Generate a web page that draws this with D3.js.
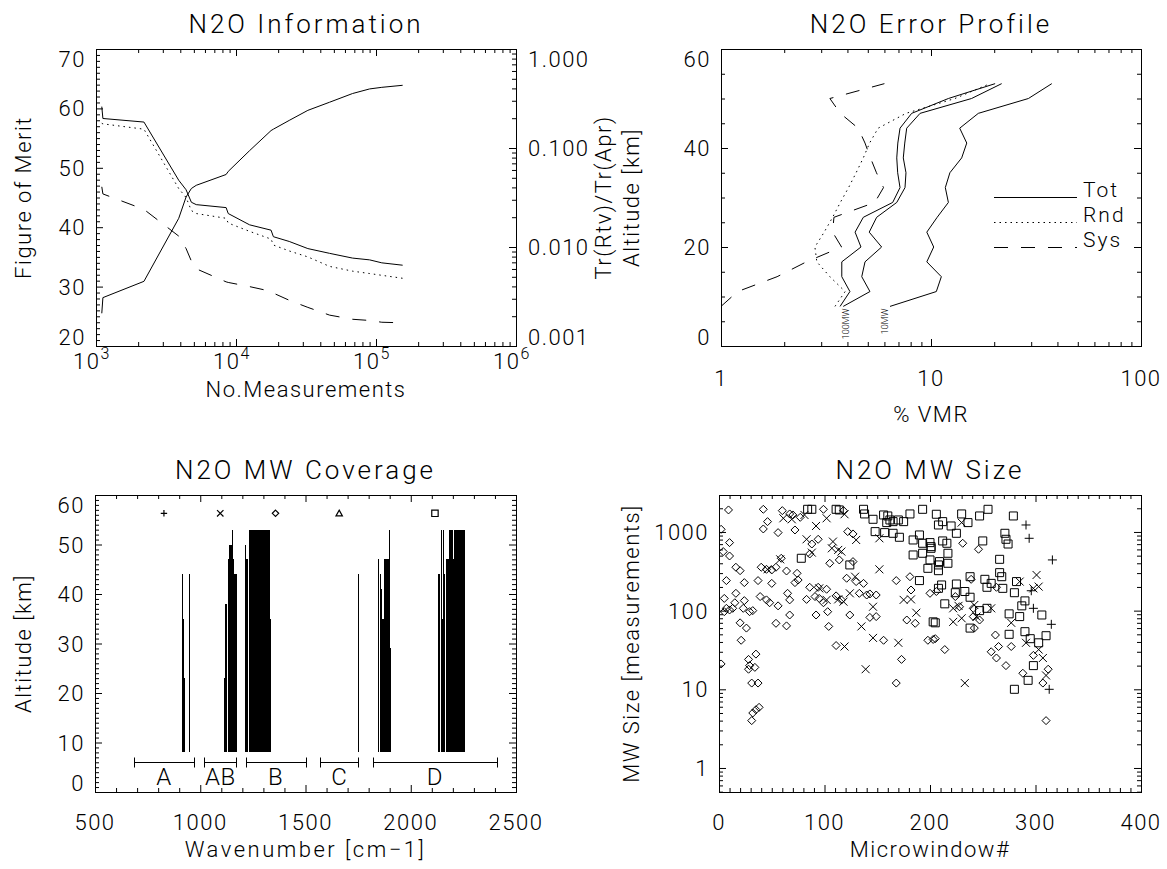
<!DOCTYPE html>
<html>
<head>
<meta charset="utf-8">
<script src="https://cdn.jsdelivr.net/npm/d3@7"></script>
<style>
  body { margin: 0; background: #fff; }
  svg text { font-family: Roboto, "Liberation Sans", sans-serif; font-weight: 300; fill: #000; }
</style>
</head>
<body>
<svg id="chart" width="1167" height="869"></svg>
<script>
// ---------- N2O Information (figure of merit vs number of measurements) ----------
var nMeas   = [1100, 1120, 2200, 3900, 4400, 4800, 5200, 8500, 8800, 12500, 17800, 18500, 24000, 32600, 46600, 68000, 90000, 110000, 155000];
var fomTot  = [60.3, 58.3, 57.7, 47.9, 46.3, 44.2, 43.8, 43.3, 42.3, 40.4, 39.5, 38.4, 37.6, 36.4, 35.6, 34.8, 34.5, 34.0, 33.6];
var fomRnd  = [57.5, 57.4, 56.5, 46.5, 45.0, 42.8, 42.3, 41.5, 40.7, 39.3, 38.0, 37.0, 36.0, 35.0, 33.4, 32.6, 32.2, 31.9, 31.4];
var fomSys  = [46.8, 45.6, 43.0, 38.5, 36.4, 34.3, 33.0, 30.8, 30.7, 30.0, 29.2, 28.9, 27.7, 26.5, 25.2, 24.5, 24.3, 24.0, 23.9];
var trRatio = [0.00214, 0.00308, 0.0045, 0.0195, 0.032, 0.039, 0.042, 0.054, 0.058, 0.094, 0.150, 0.155, 0.19, 0.24, 0.29, 0.355, 0.395, 0.41, 0.43];

// ---------- N2O Error Profile (% VMR vs altitude) ----------
var errAlt    = [8, 11, 14, 17, 20, 23, 26, 29, 32, 35, 38, 41, 44, 47, 50, 53];
var errTot    = [3.69, 4.11, 3.76, 3.76, 4.64, 4.35, 4.76, 6.57, 7.12, 6.94, 6.87, 6.95, 7.12, 8.09, 12.1, 20.2];
var errTot100 = [3.82, 5.12, 4.68, 4.85, 5.82, 5.08, 5.51, 6.87, 7.52, 7.6, 7.38, 7.5, 7.66, 8.87, 15.6, 21.7];
var errTot10  = [6.38, 10.6, 11.2, 9.55, 10.3, 9.55, 10.7, 12.1, 11.7, 12.3, 14.0, 14.8, 13.7, 16.8, 29.1, 37.6];
var errRnd    = [3.49, 3.9, 3.3, 2.86, 2.8, 3.1, 3.4, 3.7, 4.05, 4.4, 4.76, 5.1, 5.6, 7.6, 13.0, 19.1];
var errSys    = [1.0, 1.2, 1.85, 2.55, 3.75, 3.4, 3.45, 5.4, 5.94, 5.5, 5.15, 4.85, 4.5, 3.7, 3.3, 6.0];
var legendNames = ["Tot", "Rnd", "Sys"];

// ---------- N2O MW Coverage ----------
var bandName = ["A", "AB", "B", "C", "D"];
var bandLo   = [685, 1020, 1215, 1570, 1820];
var bandHi   = [970, 1170, 1500, 1750, 2410];
var bandSym  = ["plus", "cross", "diamond", "triangle", "square"];
var mwLo  = [916, 920, 926, 948, 1116, 1121, 1132, 1140, 1153, 1159, 1164, 1216, 1222, 1232, 1330, 1751,
             1848, 1855, 1860, 1866, 1874, 1898, 1901, 2134, 2145, 2150, 2156, 2162, 2168, 2182, 2200, 2210];
var mwHi  = [920, 926, 929, 951, 1121, 1132, 1140, 1153, 1159, 1164, 1176, 1222, 1232, 1330, 1338, 1755,
             1855, 1860, 1866, 1874, 1898, 1901, 1911, 2145, 2150, 2156, 2162, 2168, 2182, 2200, 2210, 2261];
var mwTop = [44, 35, 23, 44, 23, 38, 47, 50, 53, 47, 44, 50, 47, 53, 35, 44,
             47, 44, 41, 35, 47, 53, 29, 44, 53, 35, 53, 44, 47, 53, 47, 53];
var mwBottom = 8;

// ---------- N2O MW Size (microwindow # vs size) ----------
var mwNumB  = [9, 42, 60, 67, 70, 77, 46, 42, 56, 72, 99, 118, 122, 127, 2, 10, 4, 10, 16, 20, 7, 24, 37, 40, 45, 50, 50, 64, 74, 75,
               72, 86, 94, 83, 91, 95, 99, 102, 111, 116, 121, 127, 130, 137, 133, 140, 143, 149, 149, 143, 124, 103, 92, 65, 67, 56, 39, 45, 48, 54,
               64, 67, 24, 16, 15, 5, 7, 10, 13, 5, 23, 29, 32, 20, 26, 21, 2, 28, 35, 29, 34, 28, 31, 37, 32, 35, 38, 31, 104, 111,
               156, 168, 173, 181, 168, 182, 186, 178, 198, 203, 206, 94, 59, 86, 88, 105, 114, 54, 231, 246, 239, 241, 242, 205, 214, 262, 265, 258, 263, 272,
               277, 288, 298, 307, 312, 310, 200, 241, 263, 224, 228, 247];
var mwSizeB = [1905, 1941, 1867, 1694, 1645, 1535, 1353, 1092, 981, 1060, 1941, 1867, 1010, 944, 1081, 732, 563, 495, 356, 322, 241, 227, 241, 356, 335, 329, 222, 319, 298, 245,
               227, 198, 198, 139, 151, 143, 126, 187, 154, 137, 258, 420, 234, 222, 166, 158, 163, 158, 84, 82, 88, 97, 88, 166, 137, 115, 151, 137, 126, 69,
               64, 88, 134, 166, 126, 143, 107, 102, 107, 97, 107, 97, 100, 70, 60, 42, 21, 24, 28, 20, 19, 18, 12, 12, 5.0, 5.5, 5.9, 4.0, 63, 36,
               42, 12, 24, 270, 241, 183, 69, 76, 42, 43, 175, 807, 463, 525, 703, 400, 441, 356, 718, 603, 250, 107, 60, 44, 32, 49, 35, 30, 25, 20,
               35, 16, 27, 12, 18, 4.0, 166, 84, 198, 151, 112, 76];
var mwNumAB  = [61, 69, 81, 92, 102, 119, 83, 88, 108, 107, 113, 116, 130, 129, 152, 152, 95, 102, 113, 118, 124, 135, 146, 146, 170,
                119, 139, 175, 182, 187, 58, 46, 230, 285, 301, 303, 298, 222, 227, 242, 244, 258, 222, 230, 277, 291, 303, 307, 310, 233];
var mwSizeAB = [1492, 1449, 1645, 1192, 1492, 1679, 807, 546, 754, 620, 591, 563, 791, 270, 831, 335, 192, 137, 139, 130, 166, 63, 45, 112, 39,
                35, 18, 137, 139, 94, 449, 335, 1315, 234, 284, 202, 192, 107, 115, 118, 84, 107, 72, 80, 70, 39, 32, 25, 15, 12];
var mwNumD  = [84, 88, 111, 114, 137, 138, 146, 160, 162, 165, 170, 175, 181, 193, 148, 157, 165, 171, 184, 190, 193, 200, 201, 184, 193,
               200, 198, 208, 208, 124, 78, 190, 205, 208, 159, 156, 206, 212, 220, 230, 236, 247, 255, 279, 212, 216, 225, 201, 217, 209,
               217, 208, 250, 266, 271, 272, 274, 266, 268, 238, 252, 254, 258, 269, 280, 282, 290, 287, 275, 285, 306, 211, 224, 225, 233,
               238, 203, 214, 247, 238, 254, 275, 290, 295, 310, 303, 298, 293, 280];
var mwSizeD = [1941, 1941, 1941, 1905, 1941, 1694, 1449, 1597, 1421, 1353, 1421, 1353, 1694, 1941, 1010, 981, 962, 856, 791, 916, 718, 732, 620, 510, 536,
               441, 345, 381, 1227, 381, 463, 241, 70, 192, 1315, 1645, 1679, 1353, 1192, 1694, 1315, 1597, 1941, 1597, 769, 718, 962, 651, 536, 420,
               400, 322, 769, 449, 962, 807, 703, 304, 270, 270, 250, 198, 222, 192, 169, 234, 133, 115, 91, 84, 88, 212, 169, 218, 175,
               148, 72, 122, 100, 60, 107, 50, 54, 44, 48, 39, 20, 13, 10];
var mwNumA  = [291, 294, 316, 296, 298, 315, 313];
var mwSizeA = [1227, 831, 441, 179, 107, 67, 10];

// ------------------------------------------------------------------
var svg = d3.select("#chart");
var TICK_FS = 22, TITLE_FS = 26, LS = "1.5px";

function decadeMinors(lo, hi) {
  var out = [];
  for (var e = Math.floor(Math.log10(lo)); e <= Math.ceil(Math.log10(hi)); e++) {
    for (var k = 1; k < 10; k++) {
      var v = k * Math.pow(10, e);
      if (v >= lo * 0.9999 && v <= hi * 1.0001) out.push(v);
    }
  }
  return out;
}

function frame(box) {
  var g = svg.append("g");
  g.append("rect")
    .attr("x", box.x0 + 0.5).attr("y", box.y0 + 0.5)
    .attr("width", box.x1 - box.x0).attr("height", box.y1 - box.y0)
    .attr("fill", "none").attr("stroke", "#000").attr("stroke-width", 1);
  return g;
}

function clip(g, box, id) {
  svg.append("clipPath").attr("id", id).append("rect")
    .attr("x", box.x0).attr("y", box.y0).attr("width", box.x1 - box.x0 + 1).attr("height", box.y1 - box.y0 + 1);
  return g.append("g").attr("clip-path", "url(#" + id + ")");
}

// inward ticks on both horizontal edges
function xTicks(g, scale, vals, len, box) {
  var b = g.append("g").attr("transform", "translate(0," + box.y1 + ")")
    .call(d3.axisBottom(scale).tickValues(vals).tickSize(-len).tickFormat(""));
  b.select(".domain").remove();
  var t = g.append("g").attr("transform", "translate(0," + box.y0 + ")")
    .call(d3.axisTop(scale).tickValues(vals).tickSize(-len).tickFormat(""));
  t.select(".domain").remove();
}
function yTicksL(g, scale, vals, len, box) {
  var a = g.append("g").attr("transform", "translate(" + box.x0 + ",0)")
    .call(d3.axisLeft(scale).tickValues(vals).tickSize(-len).tickFormat(""));
  a.select(".domain").remove();
}
function yTicksR(g, scale, vals, len, box) {
  var a = g.append("g").attr("transform", "translate(" + box.x1 + ",0)")
    .call(d3.axisRight(scale).tickValues(vals).tickSize(-len).tickFormat(""));
  a.select(".domain").remove();
}

function txt(g, x, y, s, opts) {
  opts = opts || {};
  var t = g.append("text").attr("x", x).attr("y", y)
    .attr("font-size", opts.fs || TICK_FS)
    .attr("letter-spacing", opts.ls || LS)
    .attr("text-anchor", opts.anchor || "middle")
    .text(s);
  if (opts.rot) t.attr("transform", "rotate(" + opts.rot + "," + x + "," + y + ")");
  return t;
}

// y labels: centred on ticks, the two end labels pulled inside the frame
function yLabels(g, scale, vals, x, anchor, fmt) {
  var dom = scale.domain(), lo = Math.min(dom[0], dom[1]), hi = Math.max(dom[0], dom[1]);
  g.selectAll(null).data(vals).enter().append("text")
    .attr("x", x).attr("y", function (d) {
      if (Math.abs(d - hi) < 1e-9) return scale(d) + 18;
      if (Math.abs(d - lo) < 1e-9) return scale(d) - 1;
      return scale(d) + 8;
    })
    .attr("font-size", TICK_FS).attr("letter-spacing", LS)
    .attr("text-anchor", anchor)
    .text(fmt);
}
function xLabels(g, scale, vals, y, fmt) {
  g.selectAll(null).data(vals).enter().append("text")
    .attr("x", function (d) { return scale(d); }).attr("y", y)
    .attr("font-size", TICK_FS).attr("letter-spacing", LS)
    .attr("text-anchor", "middle")
    .text(fmt);
}

function symbolPath(kind, r) {
  if (kind === "diamond") return "M0," + (-r) + "L" + r + ",0L0," + r + "L" + (-r) + ",0Z";
  if (kind === "square") return "M" + (-r) + "," + (-r) + "H" + r + "V" + r + "H" + (-r) + "Z";
  if (kind === "cross") return "M" + (-r) + "," + (-r) + "L" + r + "," + r + "M" + (-r) + "," + r + "L" + r + "," + (-r);
  if (kind === "plus") return "M" + (-r) + ",0H" + r + "M0," + (-r) + "V" + r;
  if (kind === "triangle") return "M0," + (-r) + "L" + r + "," + (r * 0.8) + "L" + (-r) + "," + (r * 0.8) + "Z";
  return "";
}

// ======================= Panel 1 =======================
(function () {
  var box = { x0: 96, x1: 516, y0: 49, y1: 346 };
  var x = d3.scaleLog().domain([1e3, 1e6]).range([box.x0, box.x1]);
  var yL = d3.scaleLinear().domain([20, 70]).range([box.y1, box.y0]);
  var yR = d3.scaleLog().domain([0.001, 1]).range([box.y1, box.y0]);
  var g = frame(box);

  xTicks(g, x, [1e3, 1e4, 1e5, 1e6], 7, box);
  xTicks(g, x, decadeMinors(1e3, 1e6).filter(function (v) { return [1e3, 1e4, 1e5, 1e6].indexOf(v) < 0; }), 4, box);
  yTicksL(g, yL, d3.range(20, 71, 10), 7, box);
  yTicksL(g, yL, d3.range(20, 71, 1).filter(function (v) { return v % 10; }), 4, box);
  yTicksR(g, yR, [0.001, 0.01, 0.1, 1], 7, box);
  yTicksR(g, yR, decadeMinors(0.001, 1).filter(function (v) { return [0.001, 0.01, 0.1, 1].indexOf(v) < 0; }), 4, box);

  yLabels(g, yL, d3.range(20, 71, 10), box.x0 - 10, "end", function (d) { return d; });
  yLabels(g, yR, [0.001, 0.01, 0.1, 1], box.x1 + 12, "start", function (d) { return d.toFixed(3); });

  [3, 4, 5, 6].forEach(function (e) {
    var t = g.append("text").attr("x", x(Math.pow(10, e)) - 4).attr("y", box.y1 + 23)
      .attr("font-size", TICK_FS).attr("letter-spacing", LS).attr("text-anchor", "middle");
    t.append("tspan").text("10");
    t.append("tspan").attr("dy", -10).attr("font-size", 16).text(e);
  });

  txt(g, (box.x0 + box.x1) / 2, 33, "N2O Information", { fs: TITLE_FS, ls: "3px" });
  txt(g, (box.x0 + box.x1) / 2, 397, "No.Measurements", {});
  txt(g, 31, (box.y0 + box.y1) / 2, "Figure of Merit", { rot: -90 });
  txt(g, 611, (box.y0 + box.y1) / 2, "Tr(Rtv)/Tr(Apr)", { rot: -90 });

  var cg = clip(g, box, "c1");
  function line(vals, sc, dash) {
    var ln = d3.line().x(function (d, i) { return x(nMeas[i]); }).y(function (d) { return sc(d); });
    cg.append("path").datum(vals).attr("d", ln).attr("fill", "none")
      .attr("stroke", "#000").attr("stroke-width", 1).attr("stroke-dasharray", dash || null);
  }
  line(fomTot, yL);
  line(fomRnd, yL, "1.5,4");
  line(fomSys, yL, "14,13");
  line(trRatio, yR);
})();

// ======================= Panel 2 =======================
(function () {
  var box = { x0: 721, x1: 1141, y0: 49, y1: 346 };
  var x = d3.scaleLog().domain([1, 100]).range([box.x0, box.x1]);
  var y = d3.scaleLinear().domain([0, 60]).range([box.y1, box.y0]);
  var g = frame(box);

  xTicks(g, x, [1, 10, 100], 7, box);
  xTicks(g, x, decadeMinors(1, 100).filter(function (v) { return [1, 10, 100].indexOf(v) < 0; }), 4, box);
  yTicksL(g, y, [0, 20, 40, 60], 7, box);
  yTicksL(g, y, [5, 10, 15, 25, 30, 35, 45, 50, 55], 4, box);
  yTicksR(g, y, [0, 20, 40, 60], 7, box);
  yTicksR(g, y, [5, 10, 15, 25, 30, 35, 45, 50, 55], 4, box);

  yLabels(g, y, [0, 20, 40, 60], box.x0 - 10, "end", function (d) { return d; });
  xLabels(g, x, [1, 10, 100], box.y1 + 40, function (d) { return d; });

  txt(g, (box.x0 + box.x1) / 2, 33, "N2O Error Profile", { fs: TITLE_FS, ls: "3px" });
  txt(g, (box.x0 + box.x1) / 2, 422, "% VMR", {});
  txt(g, 639, (box.y0 + box.y1) / 2, "Altitude [km]", { rot: -90 });

  var cg = clip(g, box, "c2");
  var ln = d3.line().x(function (d) { return x(d); }).y(function (d, i) { return y(errAlt[i]); });
  [[errTot, null], [errTot100, null], [errTot10, null], [errRnd, "1.5,4"], [errSys, "14,13"]].forEach(function (s) {
    cg.append("path").datum(s[0]).attr("d", ln).attr("fill", "none")
      .attr("stroke", "#000").attr("stroke-width", 1).attr("stroke-dasharray", s[1]);
  });

  // MW count labels at the bottom of the curves
  [["100MW", errTot100, 6], ["10MW", errTot10, -2]].forEach(function (l) {
    var lx = x(l[1][0]) + l[2], ly = y(errAlt[0]) + 2;
    g.append("text").attr("x", lx).attr("y", ly).attr("font-size", 9)
      .attr("text-anchor", "end").attr("transform", "rotate(-90," + lx + "," + ly + ")").text(l[0]);
  });

  // legend
  var dashes = [null, "1.5,4", "14,13"];
  legendNames.forEach(function (nm, i) {
    var ly = 197 + i * 25;
    g.append("line").attr("x1", 994).attr("x2", 1077).attr("y1", ly + 0.5).attr("y2", ly + 0.5)
      .attr("stroke", "#000").attr("stroke-dasharray", dashes[i]);
    g.append("text").attr("x", 1083).attr("y", ly).attr("font-size", 21).attr("letter-spacing", "2px").text(nm);
  });
})();

// ======================= Panel 3 =======================
(function () {
  var box = { x0: 95, x1: 516, y0: 495, y1: 792 };
  var x = d3.scaleLinear().domain([500, 2500]).range([box.x0, box.x1]);
  var y = d3.scaleLinear().domain([0, 60]).range([box.y1, box.y0]);
  var g = frame(box);

  xTicks(g, x, d3.range(500, 2501, 500), 7, box);
  xTicks(g, x, d3.range(500, 2501, 100).filter(function (v) { return v % 500; }), 4, box);
  yTicksL(g, y, d3.range(0, 61, 10), 7, box);
  yTicksL(g, y, d3.range(0, 61, 1).filter(function (v) { return v % 10; }), 4, box);
  yTicksR(g, y, d3.range(0, 61, 10), 7, box);
  yTicksR(g, y, d3.range(0, 61, 1).filter(function (v) { return v % 10; }), 4, box);

  yLabels(g, y, d3.range(0, 61, 10), box.x0 - 10, "end", function (d) { return d; });
  xLabels(g, x, d3.range(500, 2501, 500), box.y1 + 38, function (d) { return d; });

  txt(g, (box.x0 + box.x1) / 2, 479, "N2O MW Coverage", { fs: TITLE_FS, ls: "3px" });
  txt(g, (box.x0 + box.x1) / 2, 857, "Wavenumber [cm\u22121]", { ls: "2.5px" });
  txt(g, 31, (box.y0 + box.y1) / 2, "Altitude [km]", { rot: -90 });

  // microwindow coverage blocks
  g.selectAll(null).data(mwLo).enter().append("rect")
    .attr("x", function (d) { return Math.floor(x(d)); })
    .attr("width", function (d, i) { return Math.max(1, x(mwHi[i]) - x(d)); })
    .attr("y", function (d, i) { return y(mwTop[i]); })
    .attr("height", function (d, i) { return y(mwBottom) - y(mwTop[i]); })
    .attr("fill", "#000").attr("shape-rendering", "crispEdges");

  // spectral band ranges
  var yb = Math.round(y(6)) + 0.5;
  bandName.forEach(function (nm, i) {
    var a = Math.round(x(bandLo[i])) + 0.5, b = Math.round(x(bandHi[i])) + 0.5;
    g.append("path").attr("d", "M" + a + "," + yb + "H" + b + "M" + a + "," + (yb - 5) + "V" + (yb + 5) + "M" + b + "," + (yb - 5) + "V" + (yb + 5))
      .attr("stroke", "#000").attr("fill", "none");
    var cx = x((bandLo[i] + bandHi[i]) / 2);
    txt(g, cx, y(1.4), nm, { fs: 24, ls: "0.5px" });
    g.append("path").attr("d", symbolPath(bandSym[i], 3.2))
      .attr("transform", "translate(" + cx + "," + y(56.3) + ")")
      .attr("fill", "none").attr("stroke", "#000").attr("stroke-width", 1.2);
  });
})();

// ======================= Panel 4 =======================
(function () {
  var box = { x0: 719, x1: 1141, y0: 495, y1: 792 };
  var x = d3.scaleLinear().domain([0, 400]).range([box.x0, box.x1]);
  var y = d3.scaleLog().domain([0.495, 2950]).range([box.y1, box.y0]);
  var g = frame(box);

  xTicks(g, x, d3.range(0, 401, 100), 7, box);
  xTicks(g, x, d3.range(0, 401, 10).filter(function (v) { return v % 100; }), 4, box);
  var majors = [1, 10, 100, 1000];
  var minors = decadeMinors(0.495, 2950).filter(function (v) { return majors.indexOf(v) < 0; });
  yTicksL(g, y, majors, 7, box);
  yTicksL(g, y, minors, 4, box);
  yTicksR(g, y, majors, 7, box);
  yTicksR(g, y, minors, 4, box);

  yLabels(g, y, majors, box.x0 - 10, "end", function (d) { return d; });
  xLabels(g, x, d3.range(0, 401, 100), box.y1 + 38, function (d) { return d; });

  txt(g, (box.x0 + box.x1) / 2, 479, "N2O MW Size", { fs: TITLE_FS, ls: "3px" });
  txt(g, (box.x0 + box.x1) / 2, 857, "Microwindow#", {});
  txt(g, 639, (box.y0 + box.y1) / 2, "MW Size [measurements]", { rot: -90 });

  var cg = clip(g, box, "c4");
  function pts(nums, sizes, kind, r) {
    cg.selectAll(null).data(nums).enter().append("path")
      .attr("d", symbolPath(kind, r))
      .attr("transform", function (d, i) { return "translate(" + x(d) + "," + y(sizes[i]) + ")"; })
      .attr("fill", "none").attr("stroke", "#000").attr("stroke-width", 1);
  }
  pts(mwNumB, mwSizeB, "diamond", 4);
  pts(mwNumAB, mwSizeAB, "cross", 4);
  pts(mwNumD, mwSizeD, "square", 4);
  pts(mwNumA, mwSizeA, "plus", 4.5);
})();
</script>
</body>
</html>
